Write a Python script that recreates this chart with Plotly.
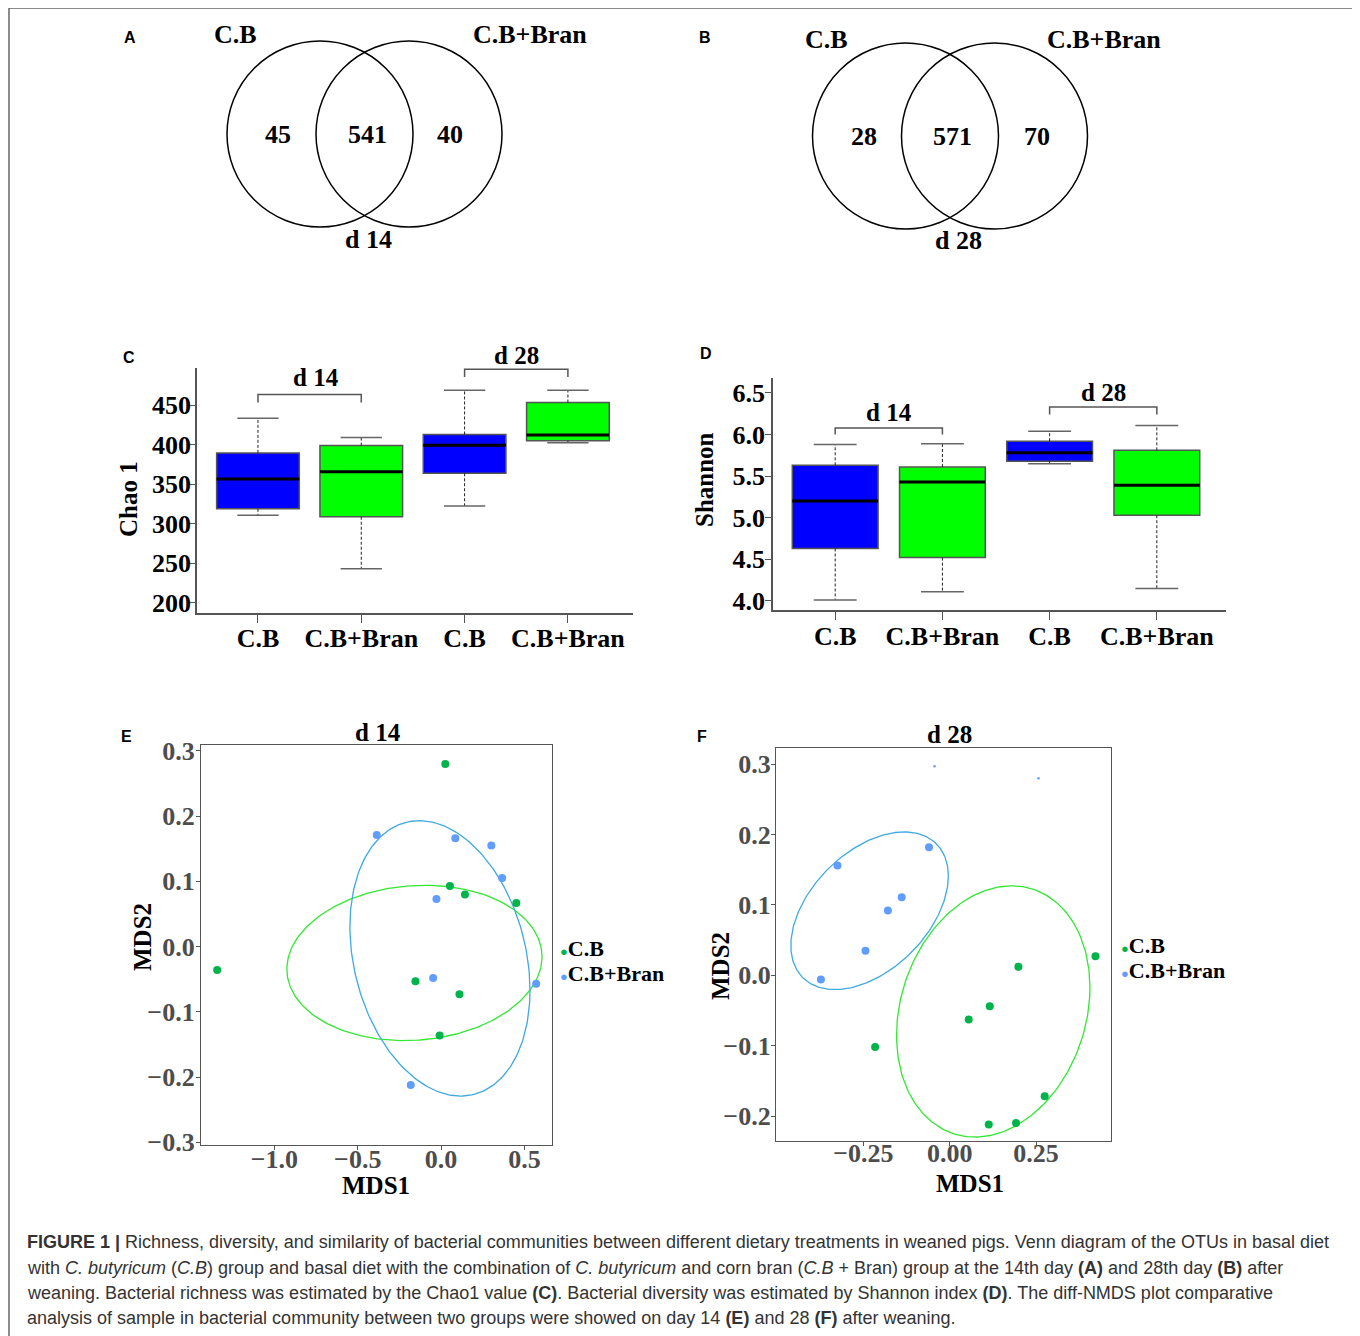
import numpy as np
import plotly.graph_objects as go

# the page body has an 8 px margin, so the figure is offset by 8 px
OFF = 8
W, H = 1360 - OFF, 1336 - OFF


def px(x):
    return (x - OFF) / W


def py(y):
    return 1 - (y - OFF) / H


SERIF = "Liberation Serif"
SANS = "Liberation Sans"

# ---------------- data ----------------
groups = ["C.B", "C.B+Bran"]
days = ["d 14", "d 28"]
group_colors = ["#00B34A", "#619CFF"]
ellipse_colors = ["#33E833", "#3FA9E2"]

# Venn counts: [only C.B, shared, only C.B+Bran]
venn_d14 = [45, 541, 40]
venn_d28 = [28, 571, 70]

box_categories = ["C.B", "C.B+Bran", "C.B", "C.B+Bran"]
box_colors = ["#0000FF", "#00FF00", "#0000FF", "#00FF00"]

chao_lower = [310.8, 243.0, 322.5, 402.5]
chao_q1 = [318.8, 308.8, 363.8, 405.0]
chao_median = [356.7, 365.8, 399.2, 412.1]
chao_q3 = [389.6, 398.8, 412.9, 453.3]
chao_upper = [433.3, 409.2, 468.8, 468.8]
chao_ticks = [200, 250, 300, 350, 400, 450]

shannon_lower = [4.01, 4.11, 5.65, 4.15]
shannon_q1 = [4.63, 4.52, 5.68, 5.03]
shannon_median = [5.20, 5.43, 5.78, 5.39]
shannon_q3 = [5.63, 5.61, 5.92, 5.81]
shannon_upper = [5.88, 5.89, 6.04, 6.11]
shannon_ticks = [4.0, 4.5, 5.0, 5.5, 6.0, 6.5]

# NMDS day 14
e_cb_x = [0.025, -1.343, 0.053, 0.143, 0.451, -0.154, 0.110, -0.009]
e_cb_y = [0.280, -0.036, 0.093, 0.080, 0.067, -0.053, -0.073, -0.136]
e_bran_x = [-0.386, 0.085, 0.301, 0.366, -0.028, -0.048, 0.570, -0.182]
e_bran_y = [0.171, 0.166, 0.155, 0.105, 0.073, -0.048, -0.057, -0.212]

# NMDS day 28
f_cb_x = [0.422, 0.199, 0.116, 0.055, -0.216, 0.275, 0.192, 0.113]
f_cb_y = [0.027, 0.012, -0.044, -0.063, -0.102, -0.172, -0.210, -0.212]
f_bran_x = [-0.060, -0.325, -0.139, -0.179, -0.244, -0.373]
f_bran_y = [0.182, 0.156, 0.111, 0.092, 0.035, -0.006]
f_bran_small_x = [-0.044, 0.257]
f_bran_small_y = [0.297, 0.280]

# ellipse parameters: centre x, centre y, half-width, half-height, correlation
e_ellipse_cb = [-0.16, -0.025, 0.765, 0.119, 0.08]
e_ellipse_bran = [-0.007, -0.018, 0.54, 0.211, -0.23]
f_ellipse_cb = [0.126, -0.0514, 0.280, 0.1785, 0.19]
f_ellipse_bran = [-0.232, 0.0917, 0.228, 0.112, 0.44]

fig = go.Figure()

# ---------------- box panels ----------------
def add_box_panel(xa, ya, lower, q1, med, q3, upper, bracket_y, bracket_drop):
    n = len(q1)
    xs = list(range(n))
    wx, wy, cx, cy, mx, my = [], [], [], [], [], []
    for i in xs:
        wx += [i, i, None, i, i, None]
        wy += [q3[i], upper[i], None, q1[i], lower[i], None]
        cx += [i - 0.2, i + 0.2, None, i - 0.2, i + 0.2, None]
        cy += [upper[i], upper[i], None, lower[i], lower[i], None]
        mx += [i - 0.4, i + 0.4, None]
        my += [med[i], med[i], None]
    fig.add_trace(go.Scatter(x=wx, y=wy, mode="lines", xaxis=xa, yaxis=ya,
                             line=dict(color="#222", width=1, dash="3px,2px"),
                             showlegend=False, hoverinfo="skip"))
    fig.add_trace(go.Scatter(x=cx, y=cy, mode="lines", xaxis=xa, yaxis=ya,
                             line=dict(color="#666", width=1.5),
                             showlegend=False, hoverinfo="skip"))
    fig.add_trace(go.Bar(x=xs, y=[b - a for a, b in zip(q1, q3)], base=q1, width=0.8,
                         xaxis=xa, yaxis=ya,
                         marker=dict(color=box_colors, line=dict(color="#555", width=1.5)),
                         showlegend=False))
    fig.add_trace(go.Scatter(x=mx, y=my, mode="lines", xaxis=xa, yaxis=ya,
                             line=dict(color="black", width=3),
                             showlegend=False, hoverinfo="skip"))
    # brackets
    bx, by = [], []
    for k, (a, b) in enumerate([(0, 1), (2, 3)]):
        bx += [a, a, b, b, None]
        by += [bracket_drop[k], bracket_y[k], bracket_y[k], bracket_drop[k], None]
    fig.add_trace(go.Scatter(x=bx, y=by, mode="lines", xaxis=xa, yaxis=ya,
                             line=dict(color="#555", width=1.5),
                             showlegend=False, hoverinfo="skip"))


add_box_panel("x", "y", chao_lower, chao_q1, chao_median, chao_q3, chao_upper,
              [463.5, 495.5], [453.5, 485.5])
add_box_panel("x2", "y2", shannon_lower, shannon_q1, shannon_median, shannon_q3, shannon_upper,
              [6.08, 6.33], [6.0, 6.24])

# ---------------- NMDS panels ----------------
t = np.linspace(0, 2 * np.pi, 240)


def ellipse(p):
    cx, cy, hx, hy, rho = p
    x = cx + hx * np.cos(t)
    y = cy + hy * (rho * np.cos(t) + np.sqrt(1 - rho ** 2) * np.sin(t))
    return x, y


for xa, ya, ells, pts in [
    ("x3", "y3", [e_ellipse_cb, e_ellipse_bran], [(e_cb_x, e_cb_y), (e_bran_x, e_bran_y)]),
    ("x4", "y4", [f_ellipse_cb, f_ellipse_bran], [(f_cb_x, f_cb_y), (f_bran_x, f_bran_y)]),
]:
    for k in range(2):
        ex, ey = ellipse(ells[k])
        fig.add_trace(go.Scatter(x=ex, y=ey, mode="lines", xaxis=xa, yaxis=ya,
                                 line=dict(color=ellipse_colors[k], width=1.3),
                                 showlegend=False, hoverinfo="skip"))
    for k in range(2):
        fig.add_trace(go.Scatter(x=pts[k][0], y=pts[k][1], mode="markers", xaxis=xa, yaxis=ya,
                                 marker=dict(color=group_colors[k], size=8),
                                 name=groups[k], showlegend=False))

fig.add_trace(go.Scatter(x=f_bran_small_x, y=f_bran_small_y, mode="markers", xaxis="x4", yaxis="y4",
                         marker=dict(color=group_colors[1], size=2.5), showlegend=False))

# ---------------- axes ----------------
box_x = dict(tickvals=[0, 1, 2, 3], ticktext=box_categories, ticks="outside", ticklen=8,
             tickcolor="#555", showline=True, linecolor="#555", linewidth=1.5,
             showgrid=False, zeroline=False, automargin=False,
             tickfont=dict(family=SERIF, size=26, color="black", weight="bold"))
box_y = dict(ticks="outside", ticklen=6, tickcolor="#555", showline=True, linecolor="#555",
             linewidth=1.5, showgrid=False, zeroline=False, automargin=False,
             tickfont=dict(family=SERIF, size=26, color="black", weight="bold"))
nm_ax = dict(ticks="outside", ticklen=4, tickcolor="#555", showline=True, linecolor="#555",
             linewidth=1.2, mirror=True, showgrid=False, zeroline=False, automargin=False,
             tickfont=dict(family=SERIF, size=26, color="#4d4d4d", weight="bold"))

fig.update_layout(
    xaxis=dict(domain=[px(197), px(633)], range=[-0.59, 3.63], anchor="y",
               ticklabelstandoff=-7, **box_x),
    yaxis=dict(domain=[py(613), py(368)], range=[187, 497], anchor="x",
               tickvals=chao_ticks, ticklabelstandoff=-7, **box_y),
    xaxis2=dict(domain=[px(773), px(1226)], range=[-0.58, 3.645], anchor="y2",
                ticklabelstandoff=-6, **box_x),
    yaxis2=dict(domain=[py(610), py(378)], range=[3.89, 6.68], anchor="x2",
                tickvals=shannon_ticks, tickformat=".1f", ticklabelstandoff=-5, **box_y),
    xaxis3=dict(domain=[px(201), px(552)], range=[-1.44, 0.665], anchor="y3",
                tickvals=[-1.0, -0.5, 0.0, 0.5], tickformat=".1f", ticklabelstandoff=-13, **nm_ax),
    yaxis3=dict(domain=[py(1145), py(745)], range=[-0.304, 0.309], anchor="x3",
                dtick=0.1, tickformat=".1f", ticklabelstandoff=-4, **nm_ax),
    xaxis4=dict(domain=[px(776), px(1111)], range=[-0.503, 0.467], anchor="y4",
                tickvals=[-0.25, 0.0, 0.25], tickformat=".2f", ticklabelstandoff=-15, **nm_ax),
    yaxis4=dict(domain=[py(1141), py(748)], range=[-0.2355, 0.323], anchor="x4",
                dtick=0.1, tickformat=".1f", ticklabelstandoff=-5, **nm_ax),
)

# ---------------- shapes ----------------
shapes = [dict(type="rect", xref="paper", yref="paper", x0=px(9), x1=px(1356), y0=py(1345), y1=py(8),
               line=dict(color="#666", width=1.5))]
for (cx, cy) in [(320, 134), (409, 134), (905.5, 136), (994.5, 136)]:
    r = 93
    shapes.append(dict(type="circle", xref="paper", yref="paper",
                       x0=px(cx - r), x1=px(cx + r), y0=py(cy + r), y1=py(cy - r),
                       line=dict(color="black", width=1.5)))
fig.update_layout(shapes=shapes)

# ---------------- annotations ----------------
ann = []


def txt(x, y, s, size=24, family=SERIF, color="black", angle=0, xanchor="center", bold=True):
    ann.append(dict(x=px(x), y=py(y), xref="paper", yref="paper", text=(f"<b>{s}</b>" if bold else s),
                    showarrow=False, xanchor=xanchor, yanchor="middle", textangle=angle,
                    font=dict(family=family, size=size, color=color)))


# Venn A
txt(235, 34, groups[0], 26)
txt(530, 34, groups[1], 26)
for xx, v in zip([278, 367, 450], venn_d14):
    txt(xx, 135, str(v), 26)
txt(368, 240, days[0], 26)
# Venn B
txt(827, 40, groups[0], 26)
txt(1104, 40, groups[1], 26)
for xx, v in zip([864, 952, 1037], venn_d28):
    txt(xx, 137, str(v), 26)
txt(958, 241, days[1], 26)

# panel letters
for L, (x, y) in zip("ABCDEF", [(130, 38), (705, 38), (129, 357), (706, 353), (126, 736), (702, 736)]):
    txt(x, y, L, 16, SANS)

# box panel bracket labels (x in category units, y in page pixels)
for xa, xcs, ys in [("x", [0.56, 2.5], [377, 355]), ("x2", [0.5, 2.5], [412, 392])]:
    for k in range(2):
        ann.append(dict(x=xcs[k], y=py(ys[k]), xref=xa, yref="paper", text=f"<b>{days[k]}</b>",
                        showarrow=False, xanchor="center", yanchor="middle",
                        font=dict(family=SERIF, size=25, color="black")))

# axis titles
txt(128, 499, "Chao 1", 25, angle=-90)
txt(704, 480, "Shannon", 25, angle=-90)
txt(142, 937, "MDS2", 25, angle=-90)
txt(376, 1185, "MDS1", 25)
txt(720, 966, "MDS2", 25, angle=-90)
txt(970, 1183, "MDS1", 25)
txt(378, 732, days[0], 25)
txt(950, 734, days[1], 25)

# legends
for x0, ys in [(558, [948, 973]), (1119, [945, 970])]:
    for k in range(2):
        ann.append(dict(x=px(x0), y=py(ys[k]), xref="paper", yref="paper",
                        text=f"<span style='color:{group_colors[k]};font-size:13px'>●</span><b>{groups[k]}</b>",
                        showarrow=False, xanchor="left", yanchor="middle",
                        font=dict(family=SERIF, size=22, color="black")))

# caption
caption = [
    "<b>FIGURE 1 |</b> Richness, diversity, and similarity of bacterial communities between different dietary treatments in weaned pigs. Venn diagram of the OTUs in basal diet",
    "with <i>C. butyricum</i> (<i>C.B</i>) group and basal diet with the combination of <i>C. butyricum</i> and corn bran (<i>C.B</i> + Bran) group at the 14th day <b>(A)</b> and 28th day <b>(B)</b> after",
    "weaning. Bacterial richness was estimated by the Chao1 value <b>(C)</b>. Bacterial diversity was estimated by Shannon index <b>(D)</b>. The diff-NMDS plot comparative",
    "analysis of sample in bacterial community between two groups were showed on day 14 <b>(E)</b> and 28 <b>(F)</b> after weaning.",
]
for line, yy in zip(caption, [1242, 1268, 1293, 1318]):
    txt(25, yy, line, 18, SANS, color="#333", xanchor="left", bold=False)

fig.update_layout(annotations=ann, width=W, height=H,
                  margin=dict(l=0, r=0, t=0, b=0, autoexpand=False),
                  paper_bgcolor="white", plot_bgcolor="white", showlegend=False)

fig.write_html("out.html")
